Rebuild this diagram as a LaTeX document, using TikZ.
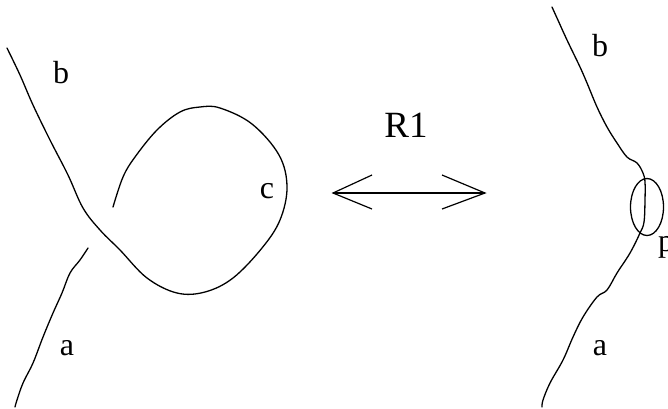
\documentclass[tikz,border=0pt]{standalone}
\usepackage{fontspec}
\setmainfont{Liberation Serif}
\begin{document}
\begin{tikzpicture}[x=1pt,y=-1pt,
  strand/.style={line width=1.3pt,line join=round,line cap=round},
  lbl/.style={inner sep=0pt,font=\fontsize{32}{32}\selectfont},
  rlbl/.style={inner sep=0pt,font=\fontsize{37}{37}\selectfont}]
\useasboundingbox (0,0) rectangle (668,408);
% left diagram
\draw[strand] plot[smooth,tension=0.6] coordinates {(7,48) (20,75) (33,105) (50,140) (68,175) (83,208) (100,230) (120,250) (147,278) (177,293) (205,292) (233,278) (262,248) (280,220) (287,187) (279,155) (252,124) (220,108) (200,107) (180,112) (157,130) (135,157) (123,177) (113,207)};
\draw[strand] plot[smooth,tension=0.6] coordinates {(88,248) (80,260) (70,273) (62,293) (53,313) (43,337) (33,363) (23,383) (17,400) (15,407)};
\node[lbl] (lb) at (61,73) {b};
\node[lbl] (la) at (67,348) {a};
\node[lbl] (lc) at (267,191) {c};
% arrow
\node[rlbl] (r1) at (406,125) {R1};
\coordinate (al) at (333,193);
\coordinate (ar) at (485,193);
\draw[line width=1.2pt] (al) -- (ar);
\draw[line width=1.2pt,line join=miter] (372,175) -- (al) -- (372,209);
\draw[line width=1.2pt,line join=miter] (442,175) -- (ar) -- (442,209);
% right diagram
\draw[strand] plot[smooth,tension=0.6] coordinates {(552,7) (557,18) (567,40) (580,67) (587,83) (597,107) (607,127) (617,143) (627,157) (637,163) (643,173) (645,182) (645,200) (644,222) (640,233) (630,253) (617,273) (607,290) (597,297) (583,317) (573,337) (563,360) (550,383) (543,400) (542,407)};
\draw[strand] (647,207) ellipse [x radius=16.5,y radius=28.5];
\node[lbl] (rb) at (600,46) {b};
\node[lbl] (ra) at (600,348) {a};
\node[lbl,anchor=west] (rp) at (658,247) {p};
\end{tikzpicture}
\end{document}
